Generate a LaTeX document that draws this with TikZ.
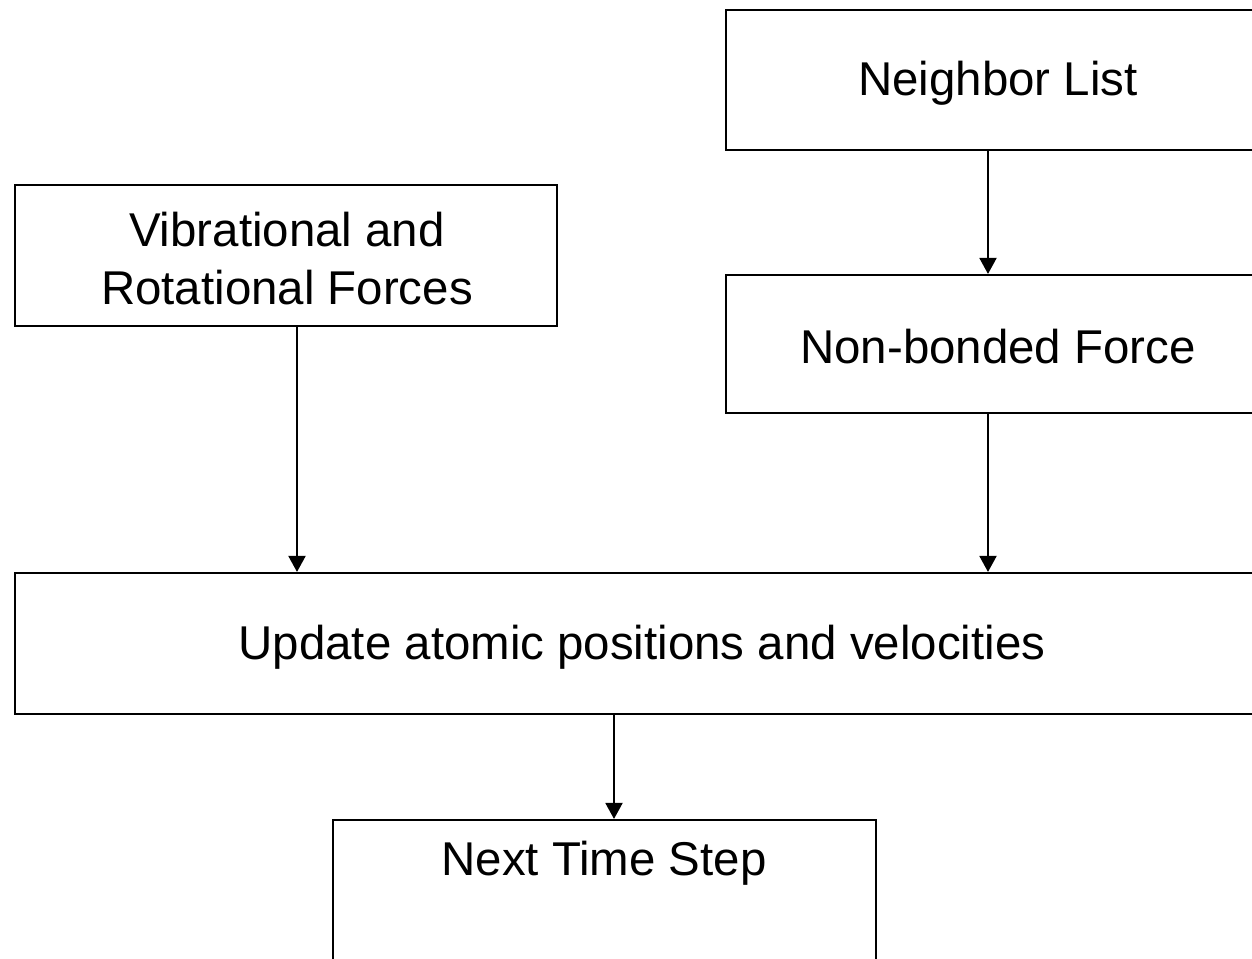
\documentclass[tikz,border=0pt]{standalone}
\usepackage{fontspec}
\setmainfont{Liberation Sans}
\usetikzlibrary{arrows.meta}
\begin{document}
\begin{tikzpicture}[x=0.02cm,y=-0.02cm,
  box/.style={draw=black,line width=1.2pt,minimum width=#1,inner sep=0pt,fill=none},
  txt/.style={font=\fontsize{27}{33}\selectfont,align=center,inner sep=0pt},
  arr/.style={line width=1.1pt,-{Triangle[length=0.32cm,width=0.34cm]}}]
\useasboundingbox (0,0) rectangle (1252,959);
\clip (0,0) rectangle (1252,959);
\node[box=544*0.02cm,minimum height=140*0.02cm] (nl) at (998,80) {};
\node[box=542*0.02cm,minimum height=141*0.02cm] (vib) at (286,255.5) {};
\node[box=544*0.02cm,minimum height=138*0.02cm] (nb) at (998,344) {};
\node[box=1255*0.02cm,minimum height=141*0.02cm] (up) at (642.5,643.5) {};
\node[box=543*0.02cm,minimum height=142*0.02cm] (nx) at (604.5,891) {};
\node[txt] (nlt) at (998,83) {Neighbor List};
\node[txt] (vibt) at (287,259) {Vibrational and\\Rotational Forces};
\node[txt] (nbt) at (998,347) {Non-bonded Force};
\node[txt] (upt) at (642,647) {Update atomic positions and velocities};
\node[txt] (nxt) at (604,863) {Next Time Step};
\coordinate (ca) at (988,0);
\coordinate (cb) at (297,0);
\coordinate (cc) at (614,0);
\draw[arr] (ca |- nl.south) -- (ca |- nb.north);
\draw[arr] (cb |- vib.south) -- (cb |- up.north);
\draw[arr] (ca |- nb.south) -- (ca |- up.north);
\draw[arr] (cc |- up.south) -- (cc |- nx.north);
\end{tikzpicture}
\end{document}
